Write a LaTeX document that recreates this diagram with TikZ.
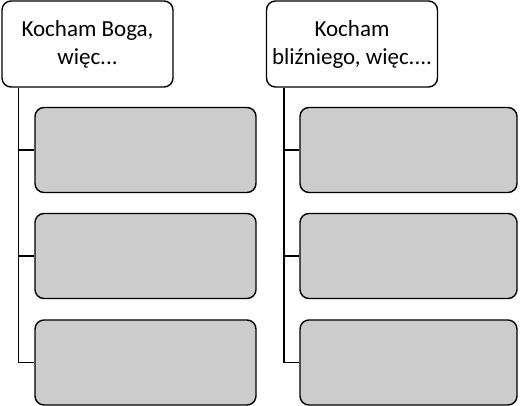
\documentclass[tikz,border=0pt]{standalone}
\usepackage{fontspec}
\setmainfont{Carlito}
\usepackage{tikz}
\usetikzlibrary{positioning}

\begin{document}
\begin{tikzpicture}[x=1pt, y=-1pt, line width=1.4pt,
    head/.style={draw, rounded corners=9pt, fill=white, align=center, inner sep=0pt,
        minimum width=171pt, minimum height=86pt, font=\fontsize{23}{28}\selectfont},
    leaf/.style={draw, rounded corners=9pt, fill=gray!40, inner sep=0pt,
        minimum width=220pt, minimum height=85pt}]
\useasboundingbox (0,0) rectangle (520,406);
% naglowki
\node[head] (h1) at (87.5,44) {Kocham Boga,\\więc...};
\node[head] (h2) at (352,44) {Kocham\\bliźniego, więc....};
% pola
\foreach \s/\x/\w in {1/145.5/221, 2/408.5/217} {
    \foreach \i/\y in {1/150, 2/256, 3/362.5} {
        \node[leaf, minimum width=\w pt] (c\s\i) at (\x,\y) {};
    }
}
% linie
\coordinate (t1) at ([xshift=17pt]h1.south west);
\coordinate (t2) at ([xshift=18pt]h2.south west);
\foreach \s in {1,2} {
    \draw (t\s) |- (c\s3.west);
    \draw (t\s |- c\s1.west) -- (c\s1.west);
    \draw (t\s |- c\s2.west) -- (c\s2.west);
}
\end{tikzpicture}
\end{document}
